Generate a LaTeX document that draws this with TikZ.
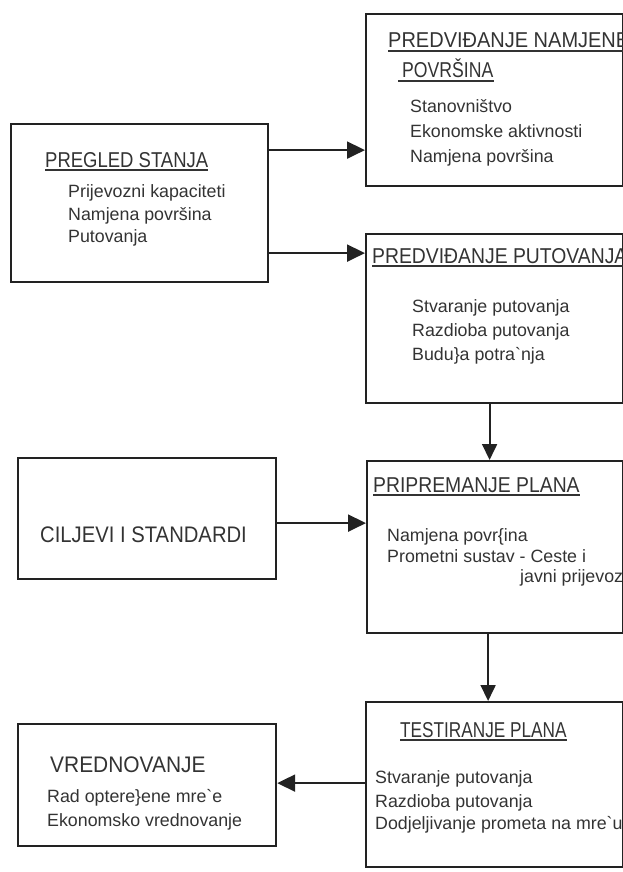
\documentclass[tikz,border=0pt]{standalone}
\usepackage{graphicx}
\usepackage{fontspec}
\setmainfont{Liberation Sans}
\usetikzlibrary{arrows.meta}
\definecolor{linec}{HTML}{222222}
\definecolor{txt}{HTML}{333333}
\newcommand{\hx}[2]{\scalebox{#1}[1]{#2}}
\begin{document}
\begin{tikzpicture}[x=1pt,y=-1pt,
  box/.style={draw=linec, line width=2.2pt, rectangle, inner sep=0pt, anchor=north west},
  arr/.style={draw=linec, line width=2pt, -{Triangle[length=18pt,width=17pt]}},
  varr/.style={draw=linec, line width=1.8pt, -{Triangle[length=16pt,width=15pt]}},
  hd/.style={anchor=base west, inner sep=0pt, text=txt, font=\fontsize{21.5}{25}\selectfont},
  bhd/.style={anchor=base west, inner sep=0pt, text=txt, font=\fontsize{22.5}{26}\selectfont},
  bd/.style={anchor=base west, inner sep=0pt, text=txt, font=\fontsize{17.8}{21}\selectfont},
  ul/.style={draw=txt, line width=1.6pt}]
\useasboundingbox (0,0) rectangle (623,872);
\clip (0,0) rectangle (623,872);
% boxes
\node[box, minimum width=257pt, minimum height=158pt] (pregled) at (10,123) {};
\node[box, minimum width=257pt, minimum height=172pt] (namjene) at (365,13) {};
\node[box, minimum width=257pt, minimum height=169pt] (putovanja) at (365,233) {};
\node[box, minimum width=258pt, minimum height=121pt] (ciljevi) at (17,457) {};
\node[box, minimum width=256pt, minimum height=172pt] (plan) at (366,460) {};
\node[box, minimum width=257pt, minimum height=165pt] (test) at (365,701) {};
\node[box, minimum width=258pt, minimum height=122pt] (vred) at (17,723) {};
% arrows
\draw[arr] ([yshift=53pt]pregled.east) -- ([yshift=53pt]pregled.east -| namjene.west);
\draw[arr] ([yshift=-50pt]pregled.east) -- ([yshift=-50pt]pregled.east -| putovanja.west);
\draw[varr] ([xshift=-5pt]putovanja.south) -- ([xshift=-5pt]putovanja.south |- plan.north);
\draw[arr] ([yshift=-4.5pt]ciljevi.east) -- ([yshift=-4.5pt]ciljevi.east -| plan.west);
\draw[varr] ([xshift=-7pt]plan.south) -- ([xshift=-7pt]plan.south |- test.north);
\draw[arr] ([yshift=1.5pt]test.west) -- ([yshift=1.5pt]test.west -| vred.east);
% PREGLED STANJA
\node[hd] (h1) at (45,167) {\hx{0.86}{PREGLED STANJA}};
\draw[ul] ([yshift=-3pt]h1.base west) -- ([yshift=-3pt]h1.base east);
\node[bd] (p1) at (68,197) {Prijevozni kapaciteti};
\node[bd] (p2) at (68,220) {Namjena površina};
\node[bd] (p3) at (68,242) {Putovanja};
% PREDVIDANJE NAMJENE
\node[hd] (h2) at (388,48) {\hx{0.93}{PREDVIĐANJE NAMJENE}};
\draw[ul] ([yshift=-3pt]h2.base west) -- ([yshift=-3pt]h2.base east);
\node[hd] (h2b) at (402,78) {\hx{0.82}{POVRŠINA}};
\draw[ul] ([yshift=-3pt,xshift=-4pt]h2b.base west) -- ([yshift=-3pt]h2b.base east);
\node[bd] (n1) at (410,113) {Stanovništvo};
\node[bd] (n2) at (410,137) {Ekonomske aktivnosti};
\node[bd] (n3) at (410,162) {Namjena površina};
% PREDVIDANJE PUTOVANJA
\node[hd] (h3) at (372,263) {\hx{0.9}{PREDVIĐANJE PUTOVANJA}};
\draw[ul] ([yshift=-3pt]h3.base west) -- ([yshift=-3pt]h3.base east);
\node[bd] (u1) at (412,312) {Stvaranje putovanja};
\node[bd] (u2) at (412,336) {Razdioba putovanja};
\node[bd] (u3) at (412,360) {Budu\}a potra\textasciigrave nja};
% CILJEVI
\node[bhd] (h4) at (40,542) {\hx{0.9}{CILJEVI I STANDARDI}};
% PRIPREMANJE PLANA
\node[hd] (h5) at (373,492) {\hx{0.9}{PRIPREMANJE PLANA}};
\draw[ul] ([yshift=-3pt]h5.base west) -- ([yshift=-3pt]h5.base east);
\node[bd] (r1) at (387,541) {Namjena povr\{ina};
\node[bd] (r2) at (387,562) {Prometni sustav - Ceste i};
\node[bd] (r3) at (520,582) {javni prijevoz};
% TESTIRANJE PLANA
\node[hd] (h6) at (400,737) {\hx{0.8}{TESTIRANJE PLANA}};
\draw[ul] ([yshift=-3pt]h6.base west) -- ([yshift=-3pt]h6.base east);
\node[bd] (s1) at (375,783) {Stvaranje putovanja};
\node[bd] (s2) at (375,807) {Razdioba putovanja};
\node[bd] (s3) at (375,829) {Dodjeljivanje prometa na mre\textasciigrave u};
% VREDNOVANJE
\node[bhd] (h7) at (50,772) {\hx{0.93}{VREDNOVANJE}};
\node[bd] (v1) at (47,802) {Rad optere\}ene mre\textasciigrave e};
\node[bd] (v2) at (47,826) {Ekonomsko vrednovanje};
\end{tikzpicture}
\end{document}
